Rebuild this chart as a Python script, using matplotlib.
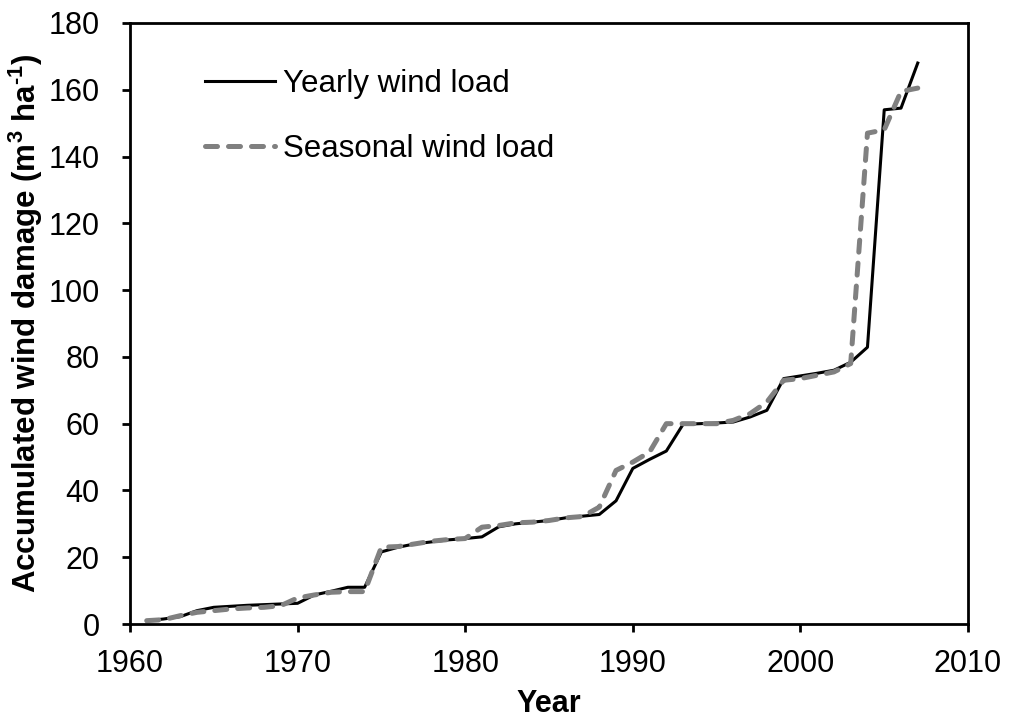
import numpy as np
import matplotlib
matplotlib.use('Agg')
import matplotlib.pyplot as plt

plt.rcParams['font.family'] = ['Liberation Sans', 'DejaVu Sans']
plt.rcParams['mathtext.fontset'] = 'custom'
plt.rcParams['mathtext.rm'] = 'Liberation Sans'
plt.rcParams['mathtext.bf'] = 'Liberation Sans:bold'

years = np.arange(1961, 2008)
yearly = [1.0, 1.5, 2.2, 4.0, 5.0, 5.3, 5.6, 5.8, 6.0, 6.2,
          8.7, 9.8, 11.0, 11.0, 21.6, 23.0, 24.0, 24.6, 25.2, 25.6,
          26.1, 29.1, 30.0, 30.5, 31.0, 31.8, 32.3, 32.8, 36.9, 46.6,
          49.3, 51.8, 59.8, 60.0, 60.2, 60.5, 62.0, 64.0, 73.5, 74.3,
          75.1, 76.0, 78.4, 82.9, 154.0, 154.5, 168.0]
seasonal = [1.0, 1.3, 2.5, 3.5, 4.0, 4.5, 4.8, 5.0, 5.5, 7.8,
            8.7, 9.5, 9.7, 9.7, 23.0, 23.2, 24.0, 24.8, 25.3, 25.6,
            29.0, 29.5, 30.3, 30.5, 31.0, 31.8, 32.2, 35.0, 46.0, 48.5,
            51.5, 60.0, 60.0, 60.0, 60.0, 61.0, 63.0, 66.5, 73.0, 73.5,
            74.5, 75.5, 78.0, 147.0, 148.0, 159.5, 160.5]

fig = plt.figure(figsize=(10.09, 7.25), dpi=100)
ax = fig.add_axes([0.1288, 0.1393, 0.9594 - 0.1288, 0.9683 - 0.1393])

ax.plot(years, yearly, color='black', lw=2.2, label='Yearly wind load')
ax.plot(years, seasonal, color='#808080', lw=3.6, dashes=(2.4, 2.2),
        dash_capstyle='round', label='Seasonal wind load')

ax.set_xlim(1960, 2010)
ax.set_ylim(0, 180)
ax.set_xticks(np.arange(1960, 2011, 10))
ax.set_yticks(np.arange(0, 181, 20))
ax.tick_params(labelsize=22, width=2, length=6, direction='out')
ax.tick_params(axis='x', pad=12)
ax.tick_params(axis='y', pad=16)
for s in ax.spines.values():
    s.set_linewidth(2)

ax.set_xlabel('Year', fontsize=22, fontweight='bold', labelpad=7)
ax.set_ylabel('Accumulated wind damage (m$^\\mathbf{3}$ ha$^\\mathbf{\u20101}$)',
              fontsize=22.5, fontweight='bold', labelpad=2)

ax.legend(loc='upper left', frameon=False, fontsize=22.5, handlelength=2.25,
          handletextpad=0.25, labelspacing=1.1, borderaxespad=0,
          bbox_to_anchor=(0.0746, 0.944))

fig.savefig('out.png', dpi=100)
